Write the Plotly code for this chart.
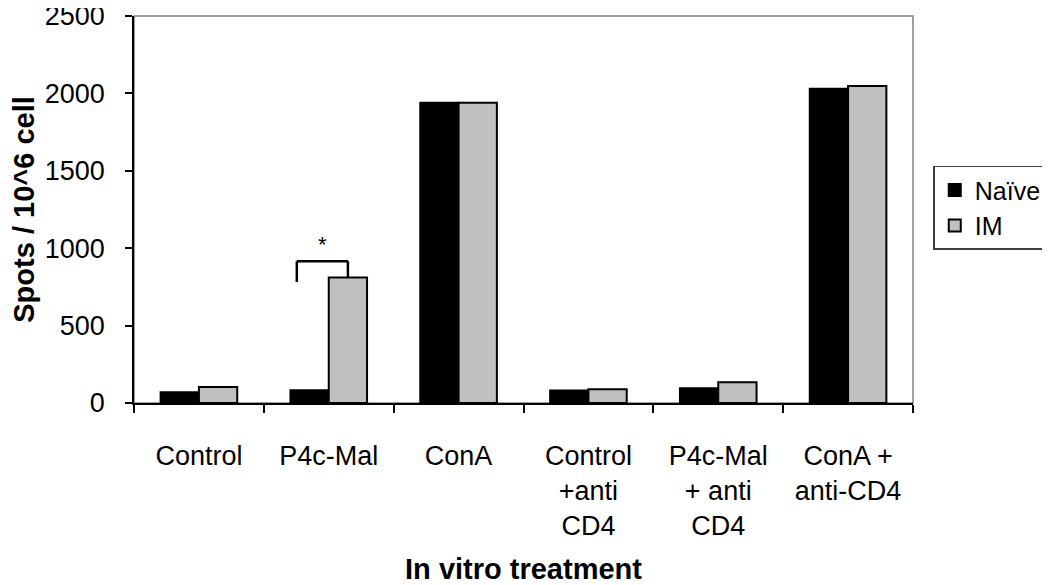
import plotly.graph_objects as go

categories = ["Control", "P4c-Mal", "ConA", "Control<br>+anti<br>CD4",
              "P4c-Mal<br>+ anti<br>CD4", "ConA +<br>anti-CD4"]
naive = [70, 83, 1940, 80, 95, 2030]
im = [104, 810, 1940, 89, 134, 2048]
y_ticks = [0, 500, 1000, 1500, 2000, 2500]

FONT = "Liberation Sans, Arial, sans-serif"

fig = go.Figure()
fig.add_trace(go.Bar(name="Naïve", x=categories, y=naive,
                     marker=dict(color="#000000", line=dict(color="#000000", width=2))))
fig.add_trace(go.Bar(name="IM", x=categories, y=im,
                     marker=dict(color="#c0c0c0", line=dict(color="#000000", width=2))))

# significance bracket between Naive and IM for P4c-Mal (category index 1)
idx = 1
bar_half = (1 - 0.41) / 4  # centre offset of each bar within the group
left_x = idx - 0.246
right_x = idx + bar_half
top_y = im[idx] + 106
fig.add_shape(type="line", xref="x", yref="y", x0=left_x, x1=right_x, y0=top_y, y1=top_y,
              line=dict(color="black", width=2.5))
fig.add_shape(type="line", xref="x", yref="y", x0=left_x, x1=left_x, y0=top_y, y1=im[idx] - 28,
              line=dict(color="black", width=2.5))
fig.add_shape(type="line", xref="x", yref="y", x0=right_x, x1=right_x, y0=top_y, y1=im[idx],
              line=dict(color="black", width=2.5))
fig.add_annotation(x=idx - 0.046, y=top_y + 110, xref="x", yref="y", text="*",
                   showarrow=False, font=dict(size=22, color="black", family=FONT))

# gray frame around plot area
fig.add_shape(type="rect", xref="paper", yref="paper", x0=0, x1=1, y0=0, y1=1,
              line=dict(color="#808080", width=1.5), layer="below")

fig.update_layout(
    width=1042, height=577,
    margin=dict(l=126, r=137, t=8, b=182, autoexpand=False),
    paper_bgcolor="white", plot_bgcolor="white",
    barmode="group", bargap=0.41, bargroupgap=0,
    font=dict(family=FONT, size=27, color="black"),
    showlegend=True,
    legend=dict(x=1.026, y=0.613, xanchor="left", yanchor="top",
                bordercolor="#404040", borderwidth=1.5, bgcolor="white",
                itemwidth=30, font=dict(size=25, family=FONT), tracegroupgap=8),
)
fig.update_xaxes(
    automargin=False,
    showline=True, linecolor="black", linewidth=1.5,
    ticks="outside", ticklen=8, tickcolor="black", tickwidth=1.5,
    tickson="boundaries", showgrid=False, ticklabelstandoff=28,
    tickfont=dict(size=27, family=FONT),
    title=dict(text="<b>In vitro treatment</b>", font=dict(size=29, family=FONT), standoff=20),
)
fig.update_yaxes(
    automargin=False,
    range=[0, 2500], tickvals=y_ticks, ticktext=[str(v) for v in y_ticks],
    showline=True, linecolor="black", linewidth=1.5,
    ticks="outside", ticklen=7, tickcolor="black", tickwidth=1.5,
    showgrid=False, zeroline=False, ticklabelstandoff=15, ticklabeloverflow="allow",
    tickfont=dict(size=27, family=FONT),
    title=dict(text="<b>Spots / 10^6 cell</b>", font=dict(size=29, family=FONT), standoff=22),
)

fig.write_html("out.html")
